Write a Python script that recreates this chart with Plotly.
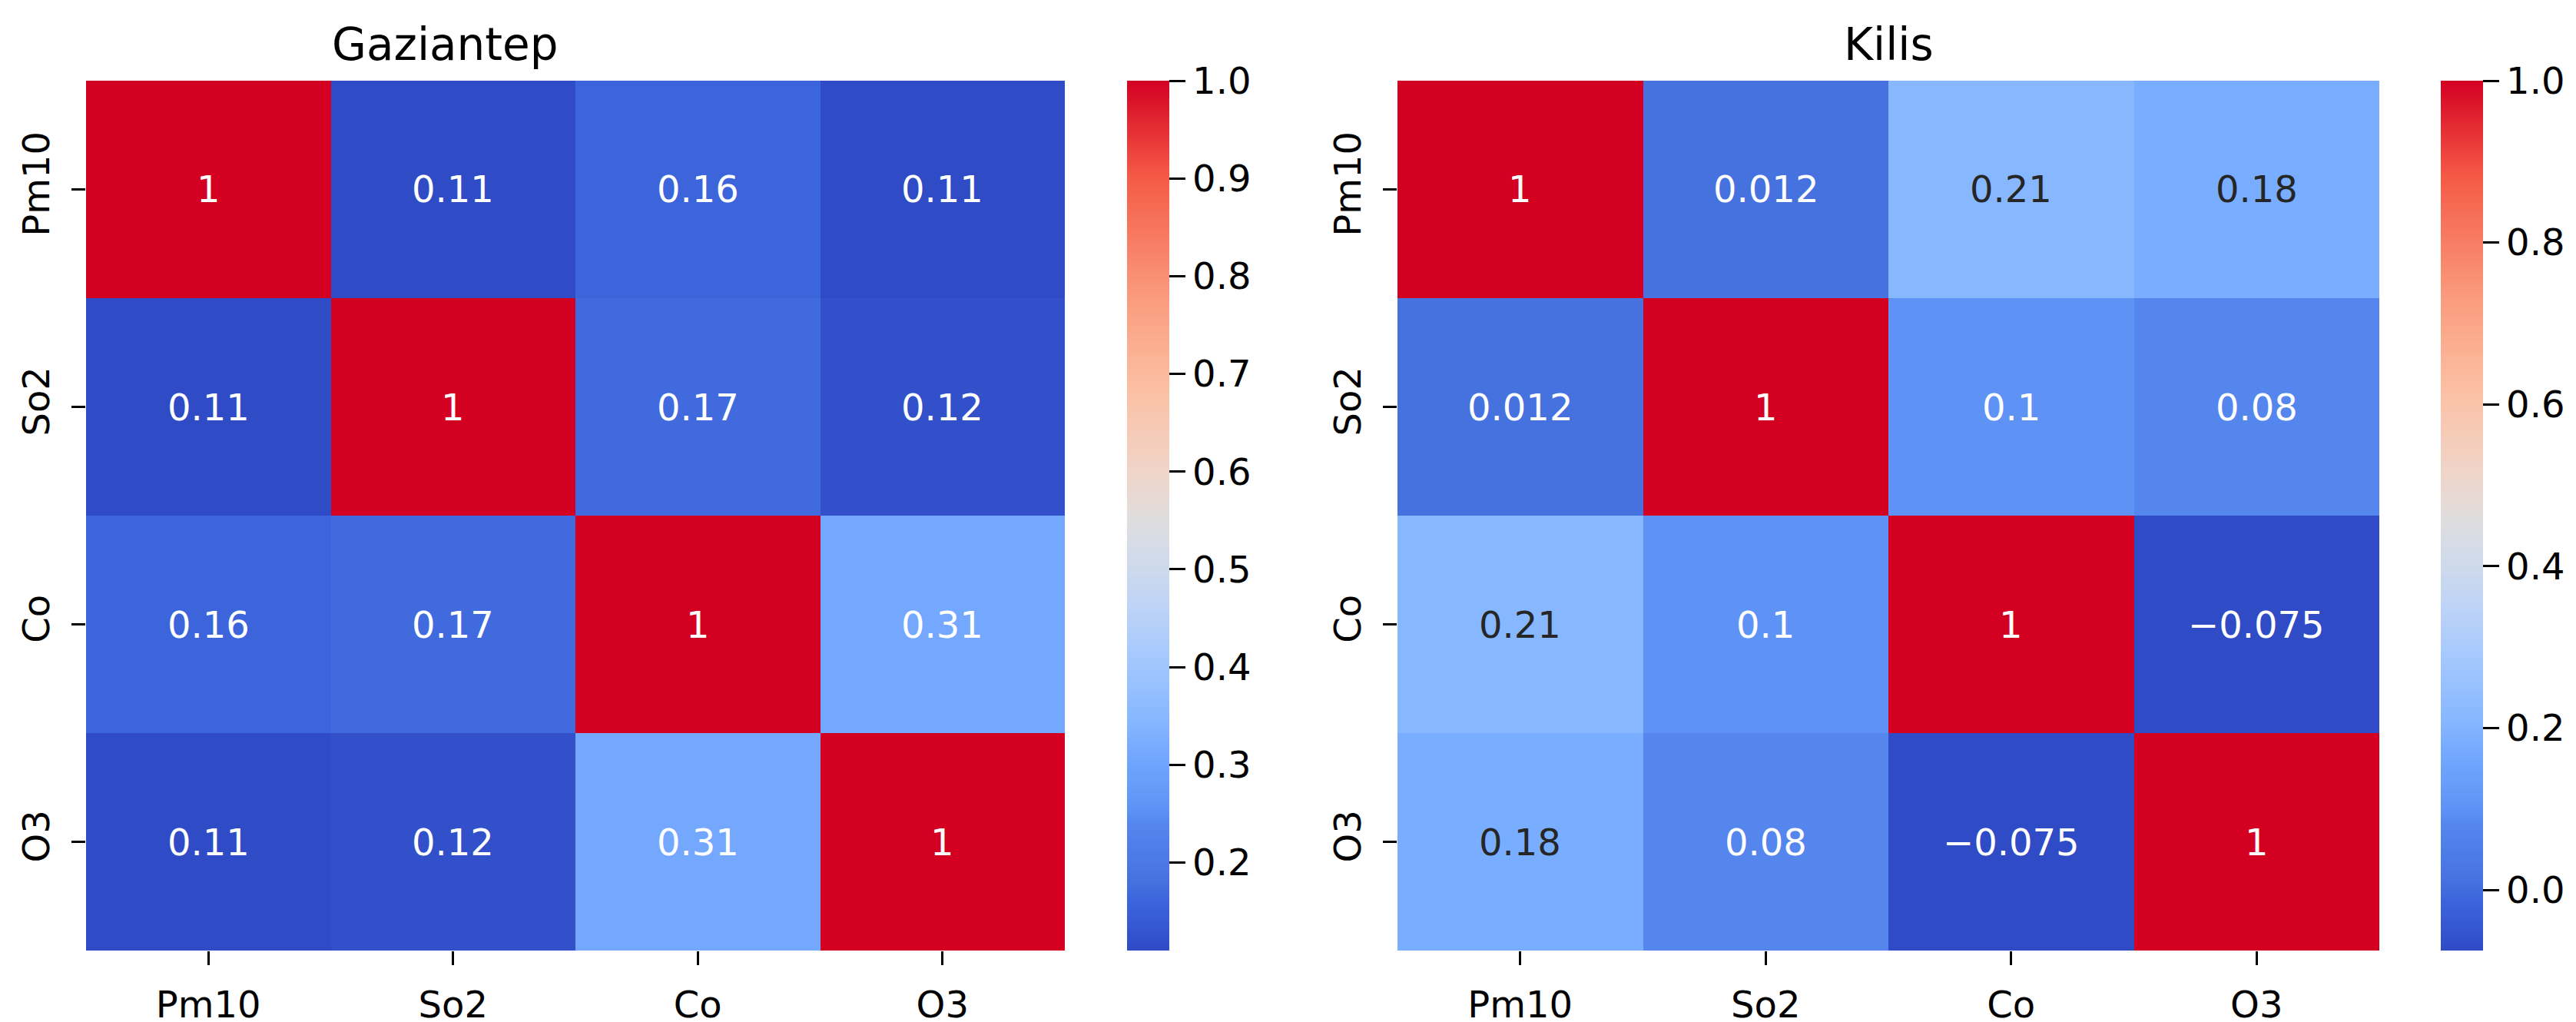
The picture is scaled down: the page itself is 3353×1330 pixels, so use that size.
import plotly.graph_objects as go

W, H = 3353, 1330

categories = ["Pm10", "So2", "Co", "O3"]
titles = ["Gaziantep", "Kilis"]

gaziantep = [
    [1.0, 0.11, 0.16, 0.11],
    [0.11, 1.0, 0.17, 0.12],
    [0.16, 0.17, 1.0, 0.31],
    [0.11, 0.12, 0.31, 1.0],
]
kilis = [
    [1.0, 0.012, 0.21, 0.18],
    [0.012, 1.0, 0.1, 0.08],
    [0.21, 0.1, 1.0, -0.075],
    [0.18, 0.08, -0.075, 1.0],
]
cbar_ticks_gaz = [0.2, 0.3, 0.4, 0.5, 0.6, 0.7, 0.8, 0.9, 1.0]
cbar_ticks_kil = [0.0, 0.2, 0.4, 0.6, 0.8, 1.0]

# coolwarm-like colorscale (as rendered in the reference)
colorscale = [
    [0.000, "rgb(47,75,197)"],
    [0.060, "rgb(61,102,220)"],
    [0.080, "rgb(70,114,224)"],
    [0.145, "rgb(85,134,238)"],
    [0.163, "rgb(94,147,245)"],
    [0.230, "rgb(117,170,255)"],
    [0.265, "rgb(135,183,255)"],
    [0.340, "rgb(166,201,253)"],
    [0.400, "rgb(192,212,245)"],
    [0.467, "rgb(214,220,230)"],
    [0.500, "rgb(224,221,220)"],
    [0.551, "rgb(240,212,200)"],
    [0.644, "rgb(252,192,164)"],
    [0.750, "rgb(250,155,125)"],
    [0.890, "rgb(245,90,70)"],
    [1.000, "rgb(212,0,34)"],
]

FONT = "DejaVu Sans"
FS = 48

# pixel geometry
top, bottom = 97, 1229
panels = [
    dict(x0=104, x1=1378, cb=1459, title_x=571),
    dict(x0=1811, x1=3089, cb=3169, title_x=2450),
]


def fmt(v):
    s = f"{v:.2g}"
    return s.replace("-", "\u2212")


fig = go.Figure()
annotations = []
datasets = [gaziantep, kilis]
tick_sets = [cbar_ticks_gaz, cbar_ticks_kil]

for i, (data, ticks, p, title) in enumerate(zip(datasets, tick_sets, panels, titles)):
    ax = "" if i == 0 else str(i + 1)
    flat = [v for row in data for v in row]
    zmin, zmax = min(flat), max(flat)
    fig.add_trace(go.Heatmap(
        z=data, x=categories, y=categories,
        colorscale=colorscale, zmin=zmin, zmax=zmax,
        xaxis="x" + ax, yaxis="y" + ax,
        hoverinfo="skip",
        colorbar=dict(
            x=p["cb"] / W, xanchor="left", xpad=0,
            y=1 - (top + bottom) / 2 / H, yanchor="middle", ypad=0,
            len=bottom - top, lenmode="pixels",
            thickness=55, thicknessmode="pixels",
            outlinewidth=0,
            ticks="outside", ticklen=21, tickwidth=3, tickcolor="black",
            tickvals=ticks, ticktext=[f"{t:.1f}" for t in ticks],
            tickfont=dict(family=FONT, size=FS, color="black"),
        ),
    ))
    for r, rowname in enumerate(categories):
        for c, colname in enumerate(categories):
            v = data[r][c]
            norm = (v - zmin) / (zmax - zmin)
            color = "#262626" if 0.23 < norm < 0.8 else "white"
            annotations.append(dict(
                x=colname, y=rowname, xref="x" + ax, yref="y" + ax,
                text=fmt(v), showarrow=False,
                font=dict(family=FONT, size=FS, color=color),
            ))
    annotations.append(dict(
        x=p["title_x"] / W, y=1 - 50 / H,
        xref="paper", yref="paper", xanchor="center", yanchor="middle",
        text=title, showarrow=False,
        font=dict(family=FONT, size=58, color="black"),
    ))
    axis_common = dict(
        showgrid=False, zeroline=False, showline=False,
        ticks="outside", ticklen=18, tickwidth=3, tickcolor="black",
        tickfont=dict(family=FONT, size=FS, color="black"),
        ticklabelstandoff=10,
    )
    fig.update_layout({
        "xaxis" + ax: dict(domain=[p["x0"] / W, p["x1"] / W], anchor="y" + ax,
                           **axis_common),
        "yaxis" + ax: dict(domain=[1 - bottom / H, 1 - top / H], anchor="x" + ax,
                           autorange="reversed", tickangle=-90, **axis_common),
    })

fig.update_layout(
    width=W, height=H,
    margin=dict(l=0, r=0, t=0, b=0),
    paper_bgcolor="white", plot_bgcolor="white",
    annotations=annotations,
    showlegend=False,
    font=dict(family=FONT, color="black"),
)

fig.write_html("out.html")
